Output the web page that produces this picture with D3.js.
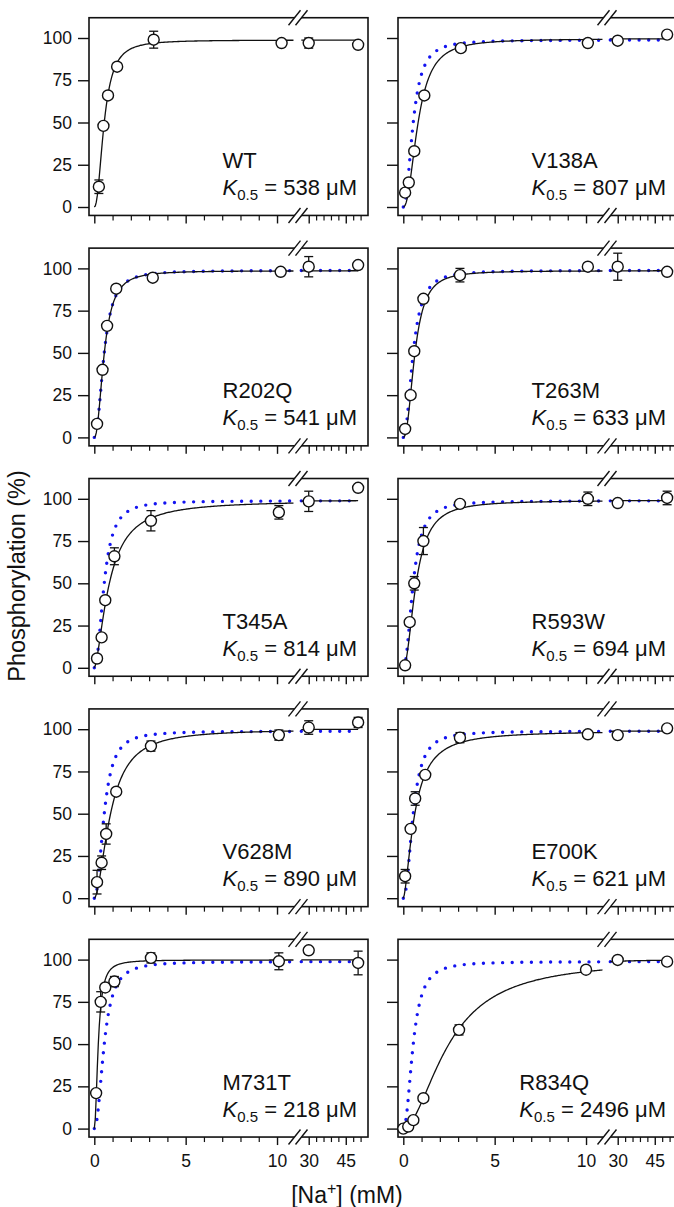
<!DOCTYPE html>
<html>
<head>
<meta charset="utf-8">
<script src="https://cdn.jsdelivr.net/npm/d3@7"></script>
<style>
  body { margin: 0; background: #fff; }
  svg { display: block; font-family: "Liberation Sans", Arial, sans-serif; }
  .tick text { fill: #111; font-size: 17.5px; }
</style>
</head>
<body>
<div id="chart"></div>
<script>
// panel names, fitted K0.5 (uM), Hill coefficients and plateaus
const mutants = ["WT", "V138A", "R202Q", "T263M", "T345A", "R593W", "V628M", "E700K", "M731T", "R834Q"];
const k05 = [538, 807, 541, 633, 814, 694, 890, 621, 218, 2496];
const hillN = [2.2, 2.2, 2.2, 2.3, 1.6, 2.0, 1.8, 1.6, 2.0, 1.85];
const vmax = [98.8, 99.5, 98.6, 98.6, 99, 99, 100, 99, 99.8, 100];

// measured points: [Na+] (mM), phosphorylation (%), error (%)
const naConc = [
  [0.25, 0.5, 0.75, 1.25, 3.25, 10.25, 30, 50],
  [0.1, 0.3, 0.6, 1.15, 3.15, 10.1, 30, 50],
  [0.15, 0.45, 0.7, 1.2, 3.2, 10.2, 30, 50],
  [0.1, 0.4, 0.6, 1.1, 3.1, 10.1, 30, 50],
  [0.15, 0.4, 0.6, 1.1, 3.1, 10.1, 30, 50],
  [0.1, 0.35, 0.6, 1.1, 3.1, 10.1, 30, 50],
  [0.15, 0.4, 0.65, 1.2, 3.1, 10.1, 30, 50],
  [0.1, 0.4, 0.65, 1.2, 3.1, 10.1, 30, 50],
  [0.1, 0.35, 0.6, 1.1, 3.1, 10.1, 30, 50],
  [0, 0.27, 0.55, 1.1, 3.05, 10, 30, 50]
];
const phos = [
  [12, 48, 66, 83, 99, 97, 97, 96],
  [8.5, 14.5, 33, 66, 94, 97, 98.4, 102],
  [8, 40, 66, 88, 94.5, 98, 101, 102],
  [5, 25, 51, 82, 96, 101, 101, 98],
  [5.5, 18, 40, 66, 87, 92, 98.5, 106.5],
  [1.5, 27, 50, 75, 97, 100, 97.5, 100.5],
  [9.5, 21, 38, 63, 90, 96.5, 101, 104],
  [13, 41, 59, 73, 95, 97, 96.5, 100.5],
  [21, 75, 83.5, 87, 101, 99, 105.5, 98],
  [0, 1.2, 5, 18, 58.4, 94, 99.8, 98.8]
];
const phosErr = [
  [4, 0, 0, 0, 5, 0, 3, 0],
  [0, 0, 0, 0, 0, 0, 0, 0],
  [0, 0, 0, 0, 0, 0, 6, 0],
  [0, 0, 0, 0, 4, 0, 8, 0],
  [0, 0, 0, 5, 6, 4, 6, 0],
  [0, 0, 4, 8, 0, 4, 0, 4],
  [7, 4, 6, 0, 3, 3, 4, 3],
  [4, 0, 4, 0, 3, 0, 0, 0],
  [0, 6, 0, 3, 3, 5, 0, 7],
  [0, 0, 0, 0, 3, 0, 0, 0]
];

const yTicks = [0, 25, 50, 75, 100];
const xMajor1 = [0, 5, 10];
const xMinor1 = [1, 2, 3, 4, 6, 7, 8, 9];
const xMajor2 = [30, 45];
const xMinor2 = [33, 36, 39, 42, 48, 51];

const width = 674, height = 1207;
const svg = d3.select("#chart").append("svg")
  .attr("width", width)
  .attr("height", height);

const colStep = 309, rowStep = 230.4;
const frameL = 89, frameR = 368;

const y = d3.scaleLinear().domain([0, 100]).range([207, 38]);
const x1 = d3.scaleLinear().domain([0, 11]).range([94.3, 295.3]);
const x2 = d3.scaleLinear().domain([27, 54]).range([301.3, 368]);
const xOf = v => v < 20 ? x1(v) : x2(v);

const frameT = y(112), frameB = y(-5);

function hill(c, i) {
  const K = k05[i] / 1000, n = hillN[i];
  const r = Math.pow(c / K, n);
  return vmax[i] * r / (1 + r);
}

function curvePts(i, lo, hi, sc) {
  return d3.range(0, 201).map(j => {
    const c = lo + (hi - lo) * j / 200;
    return [sc(c), y(hill(c, i))];
  });
}

const line = d3.line();

mutants.forEach((name, i) => {
  const row = Math.floor(i / 2), col = i % 2;
  const g = svg.append("g")
    .attr("transform", `translate(${col * colStep},${row * rowStep})`);

  // frame
  g.append("rect")
    .attr("x", frameL).attr("y", frameT)
    .attr("width", frameR - frameL).attr("height", frameB - frameT)
    .attr("fill", "none").attr("stroke", "#111").attr("stroke-width", 1.6);

  // y axis
  const ya = g.append("g").attr("transform", `translate(${frameL},0)`)
    .call(d3.axisLeft(y).tickValues(yTicks).tickSize(11).tickPadding(6)
      .tickFormat(col === 0 ? d3.format("d") : ""));
  ya.select(".domain").remove();
  ya.selectAll("line").attr("stroke", "#111").attr("stroke-width", 1.4);

  // x axes (two segments)
  const lastRow = row === 4;
  [[x1, xMajor1, xMinor1], [x2, xMajor2, xMinor2]].forEach(([sc, maj, mnr]) => {
    const a = g.append("g").attr("transform", `translate(0,${frameB})`)
      .call(d3.axisBottom(sc).tickValues(maj).tickSize(8).tickPadding(10)
        .tickFormat(lastRow ? d3.format("d") : ""));
    a.select(".domain").remove();
    a.selectAll("line").attr("stroke", "#111").attr("stroke-width", 1.4);
    const b = g.append("g").attr("transform", `translate(0,${frameB})`)
      .call(d3.axisBottom(sc).tickValues(mnr).tickSize(5).tickFormat(""));
    b.select(".domain").remove();
    b.selectAll("line").attr("stroke", "#111").attr("stroke-width", 1.2);
  });

  // axis break marks
  const cx = 298;
  [frameT, frameB].forEach(yb => {
    g.append("path")
      .attr("d", `M${cx - 9.5},${yb + 7.5}L${cx - 2.5},${yb + 7.5}L${cx + 9.5},${yb - 7.5}L${cx + 2.5},${yb - 7.5}Z`)
      .attr("fill", "#fff");
    [-3.5, 3.5].forEach(d => {
      g.append("line")
        .attr("x1", cx + d - 6).attr("y1", yb + 7.5)
        .attr("x2", cx + d + 6).attr("y2", yb - 7.5)
        .attr("stroke", "#111").attr("stroke-width", 1.4);
    });
  });

  // WT reference fit, blue dotted
  if (i > 0) {
    [[0, 10.9, x1], [27, 50, x2]].forEach(([lo, hi, sc]) => {
      g.append("path")
        .attr("d", line(curvePts(0, lo, hi, sc)))
        .attr("fill", "none").attr("stroke", "#1414f0")
        .attr("stroke-width", 3.4).attr("stroke-linecap", "round")
        .attr("stroke-dasharray", "0 9.6");
    });
  }

  // own fit, black
  [[0, 10.9, x1], [27, 50, x2]].forEach(([lo, hi, sc]) => {
    g.append("path")
      .attr("d", line(curvePts(i, lo, hi, sc)))
      .attr("fill", "none").attr("stroke", "#111").attr("stroke-width", 1.3);
  });

  // error bars
  const pts = naConc[i].map((c, j) => ({ c, v: phos[i][j], e: phosErr[i][j] }));
  pts.filter(p => p.e > 0).forEach(p => {
    const px = xOf(p.c);
    g.append("line").attr("x1", px).attr("x2", px)
      .attr("y1", y(p.v - p.e)).attr("y2", y(p.v + p.e))
      .attr("stroke", "#111").attr("stroke-width", 1.3);
    [p.v - p.e, p.v + p.e].forEach(v => {
      g.append("line").attr("x1", px - 4.5).attr("x2", px + 4.5)
        .attr("y1", y(v)).attr("y2", y(v))
        .attr("stroke", "#111").attr("stroke-width", 1.3);
    });
  });

  // points
  g.selectAll("circle.pt").data(pts).enter().append("circle")
    .attr("class", "pt")
    .attr("cx", d => xOf(d.c)).attr("cy", d => y(d.v))
    .attr("r", 5.5)
    .attr("fill", "#fff").attr("stroke", "#111").attr("stroke-width", 1.4);

  // labels
  const t1 = g.append("text").attr("y", 168)
    .attr("font-size", 22).attr("fill", "#111").text(name);
  const t2 = g.append("text").attr("y", 195)
    .attr("font-size", 22).attr("fill", "#111");
  t2.append("tspan").attr("font-style", "italic").text("K");
  t2.append("tspan").attr("font-size", 15).attr("dy", 5).text("0.5");
  t2.append("tspan").attr("dy", -5).text(` = ${k05[i]} \u03BCM`);
  const w = t2.node().getComputedTextLength();
  t1.attr("x", frameR - 11 - w);
  t2.attr("x", frameR - 11 - w);
});

// axis titles
svg.append("text")
  .attr("transform", "translate(25,576) rotate(-90)")
  .attr("text-anchor", "middle").attr("font-size", 23.5).attr("fill", "#111")
  .text("Phosphorylation (%)");

const xt = svg.append("text")
  .attr("x", 347).attr("y", 1203)
  .attr("text-anchor", "middle").attr("font-size", 23).attr("fill", "#111");
xt.append("tspan").text("[Na");
xt.append("tspan").attr("font-size", 16).attr("dy", -9).text("+");
xt.append("tspan").attr("dy", 9).text("] (mM)");
</script>
</body>
</html>
